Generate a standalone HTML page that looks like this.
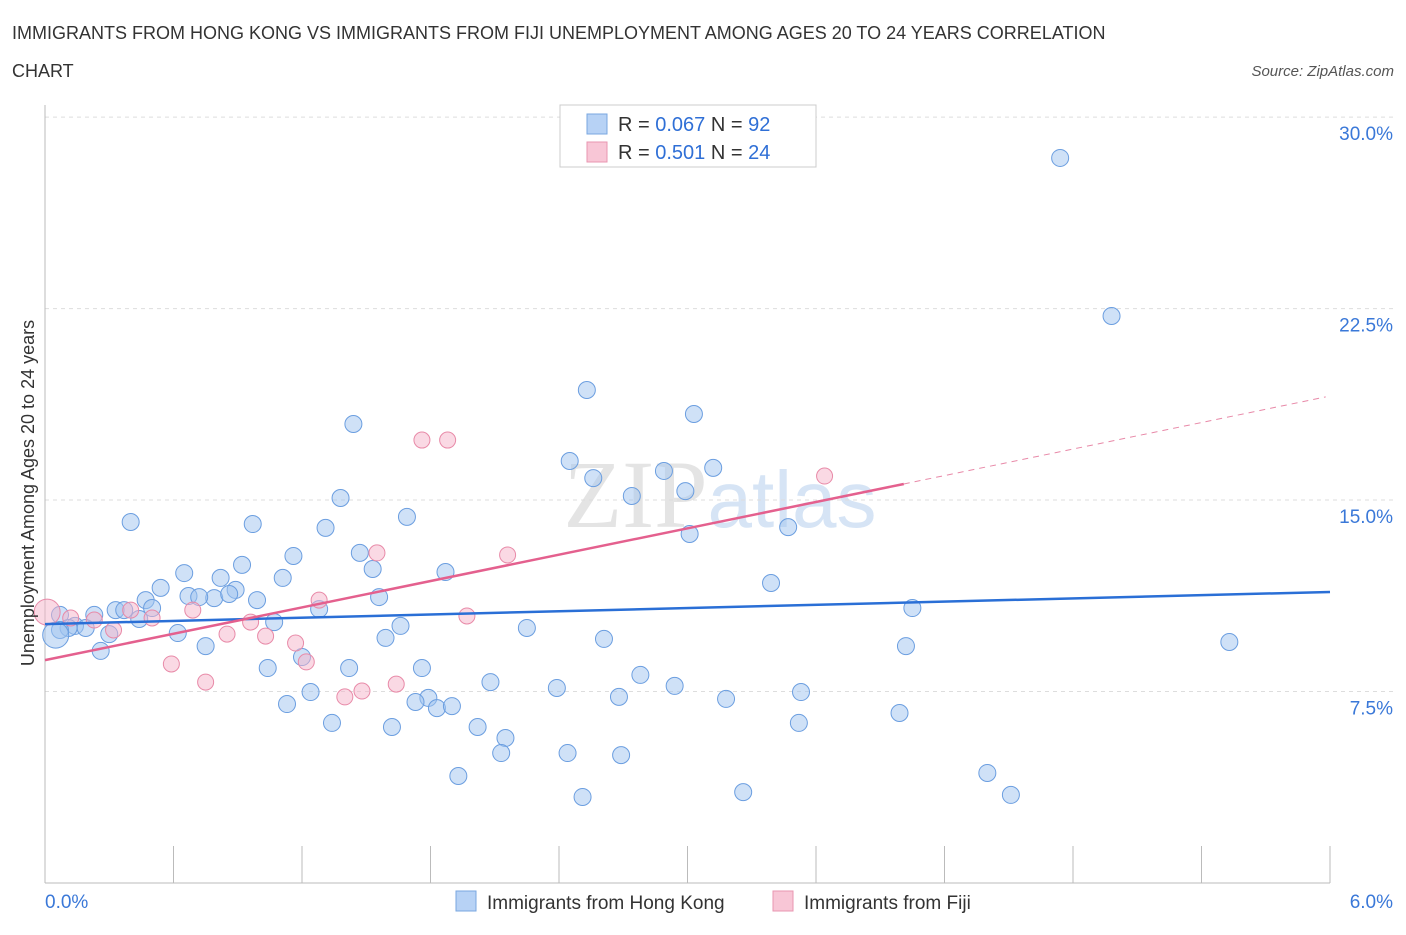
<!DOCTYPE html>
<html><head><meta charset="utf-8"><style>
body{margin:0;background:#fff;font-family:"Liberation Sans",sans-serif}
</style></head><body>
<svg id="c" width="1406" height="930" xmlns="http://www.w3.org/2000/svg" font-family="Liberation Sans, sans-serif">
<text x="12" y="39" font-size="18" fill="#333">IMMIGRANTS FROM HONG KONG VS IMMIGRANTS FROM FIJI UNEMPLOYMENT AMONG AGES 20 TO 24 YEARS CORRELATION</text>
<text x="12" y="77" font-size="18" fill="#333">CHART</text>
<text x="1394" y="76" font-size="15" fill="#555" font-style="italic" text-anchor="end">Source: ZipAtlas.com</text>
<text x="720" y="527" font-size="96" fill="#e4e4e4" text-anchor="middle" font-family="Liberation Serif, serif">ZIP<tspan fill="#d6e4f5" font-family="Liberation Sans, sans-serif" font-size="80">atlas</tspan></text>
<g id="grid"></g><g id="marks"></g>
<text transform="translate(34,493) rotate(-90)" font-size="18" fill="#333" text-anchor="middle">Unemployment Among Ages 20 to 24 years</text>
<g>
<rect x="560" y="105" width="256" height="62" fill="#fff" stroke="#ccc"/>
<rect x="587" y="114" width="20" height="20" fill="#b7d2f5" stroke="#7aa7e0"/>
<rect x="587" y="142" width="20" height="20" fill="#f8c6d6" stroke="#e896b0"/>
<text x="618" y="131" font-size="20" fill="#333">R = <tspan fill="#2f6fd6">0.067</tspan>   N = <tspan fill="#2f6fd6">92</tspan></text>
<text x="618" y="159" font-size="20" fill="#333">R =  <tspan fill="#2f6fd6">0.501</tspan>   N = <tspan fill="#2f6fd6">24</tspan></text>
</g>
<g>
<rect x="456" y="891" width="20" height="20" fill="#b7d2f5" stroke="#7aa7e0"/>
<text x="487" y="909" font-size="19" fill="#333">Immigrants from Hong Kong</text>
<rect x="773" y="891" width="20" height="20" fill="#f8c6d6" stroke="#e896b0"/>
<text x="804" y="909" font-size="19" fill="#333">Immigrants from Fiji</text>
</g>
</svg>
<script>
const yTicks=[7.5,15,22.5,30];
const yTickLabels=["7.5%","15.0%","22.5%","30.0%"];
const xTickLabels=["0.0%","6.0%"];
const hkX=[4.74,4.98,2.53,1.44,3.03,2.45,3.12,2.89,2.56,2.99,2.74,1.38,0.40,0.97,1.69,1.31,3.01,3.47,1.47,1.16,1.53,0.92,0.65,1.11,1.87,3.39,0.82,0.54,0.89,0.67,0.79,0.72,0.86,0.47,0.99,1.56,0.33,0.37,0.50,0.23,1.28,4.05,0.44,0.07,0.30,0.14,0.19,0.11,1.07,1.66,2.25,0.62,1.59,2.61,4.02,5.53,0.75,0.26,1.20,1.04,1.42,1.76,2.78,2.08,2.39,2.94,1.24,2.68,3.53,1.79,1.73,3.18,1.13,1.83,1.90,3.99,1.34,2.02,1.62,3.52,2.15,2.13,2.44,2.69,1.93,4.40,3.26,2.51,4.51,0.07,0.05];
const hkY=[28.40,22.21,19.31,17.98,18.37,16.53,16.26,16.14,15.86,15.35,15.16,15.08,14.14,14.06,14.34,13.91,13.67,13.94,12.93,12.81,12.30,12.46,12.14,11.95,12.18,11.75,11.95,11.56,11.48,11.24,11.16,11.20,11.32,11.08,11.08,11.20,10.69,10.69,10.77,10.50,10.73,10.77,10.34,10.50,9.75,10.07,9.99,9.99,10.22,10.07,9.99,9.79,9.60,9.56,9.28,9.44,9.28,9.09,8.85,8.42,8.42,8.42,8.15,7.87,7.64,7.72,7.48,7.29,7.48,7.25,7.09,7.21,7.01,6.85,6.93,6.66,6.27,6.11,6.11,6.27,5.68,5.09,5.09,5.01,4.19,4.31,3.56,3.37,3.45,9.91,9.71];
const fjX=[0.01,0.12,0.23,0.32,0.40,0.50,0.69,0.59,0.75,0.85,0.96,1.03,1.17,1.22,1.28,1.40,1.48,1.55,1.64,1.76,1.88,1.97,2.16,3.64];
const fjY=[10.61,10.38,10.30,9.91,10.69,10.38,10.69,8.58,7.87,9.75,10.22,9.67,9.40,8.66,11.08,7.29,7.52,12.93,7.79,17.35,17.35,10.46,12.85,15.94];
const hkTrend=[[0,10.14],[6,11.4]];
const fjTrend=[[0,8.73],[4.01,15.63]];
const fjTrendDash=[[4.01,15.63],[5.98,19.04]];
const X0=45,X1=1330,Y0=883,PPU=25.53;
const sx=v=>X0+(X1-X0)*v/6, sy=v=>Y0-v*PPU;
const NS="http://www.w3.org/2000/svg";
function mk(tag,a,parent){const e=document.createElementNS(NS,tag);for(const k in a)e.setAttribute(k,a[k]);parent.appendChild(e);return e;}
const g=document.getElementById('grid'),m=document.getElementById('marks');
yTicks.forEach((t,i)=>{
 const l=mk('line',{x1:X0,x2:1394,y1:sy(t),y2:sy(t),stroke:'#ddd','stroke-dasharray':'4,4'},g);
 
 
 const tx=mk('text',{x:1393,y:sy(t)+23,'font-size':19,fill:'#3a78d8','text-anchor':'end'},g);tx.textContent=yTickLabels[i];
 
 
});
mk('line',{x1:X0,x2:X0,y1:105,y2:Y0,stroke:'#bbb'},g);
mk('line',{x1:X0,x2:X1,y1:Y0,y2:Y0,stroke:'#bbb'},g);
for(let i=0;i<=10;i++){const t=mk('line',{x1:sx(i*0.6),x2:sx(i*0.6),y1:Y0,y2:i%5==0?Y0:(i%2?845:865),stroke:'#bbb'},g);
 t.setAttribute('y2',846);
 
 }
[[0,'start',45],[1,'end',1393]].forEach(([i,a,x])=>{const t=mk('text',{x:x,y:908,'font-size':19,fill:'#3a78d8','text-anchor':a},g);t.textContent=xTickLabels[i];
 
 });
hkX.forEach((x,i)=>{const big=i>=hkX.length-1;const c=mk('circle',{cx:sx(x),cy:sy(hkY[i]),r:big?13:8.5,fill:'rgba(160,195,240,0.5)',stroke:'#6b9ee0','stroke-width':1},m);
 
 });
fjX.forEach((x,i)=>{const c=mk('circle',{cx:sx(x),cy:sy(fjY[i]),r:i==0?13:8,fill:'rgba(245,180,202,0.5)',stroke:'#e88aa8','stroke-width':1},m);
 
 });
function line(p,col,w,dash,name){const l=mk('line',{x1:sx(p[0][0]),y1:sy(p[0][1]),x2:sx(p[1][0]),y2:sy(p[1][1]),stroke:col,'stroke-width':w},m);if(dash)l.setAttribute('stroke-dasharray',dash);
 
 }
line(hkTrend,'#2a6fd6',2.5,null,'hong-kong-trendline');
line(fjTrend,'#e4608e',2.5,null,'fiji-trendline');
line(fjTrendDash,'#e889a8',1,'6,5','fiji-trendline-extension');
</script>
</body></html>
